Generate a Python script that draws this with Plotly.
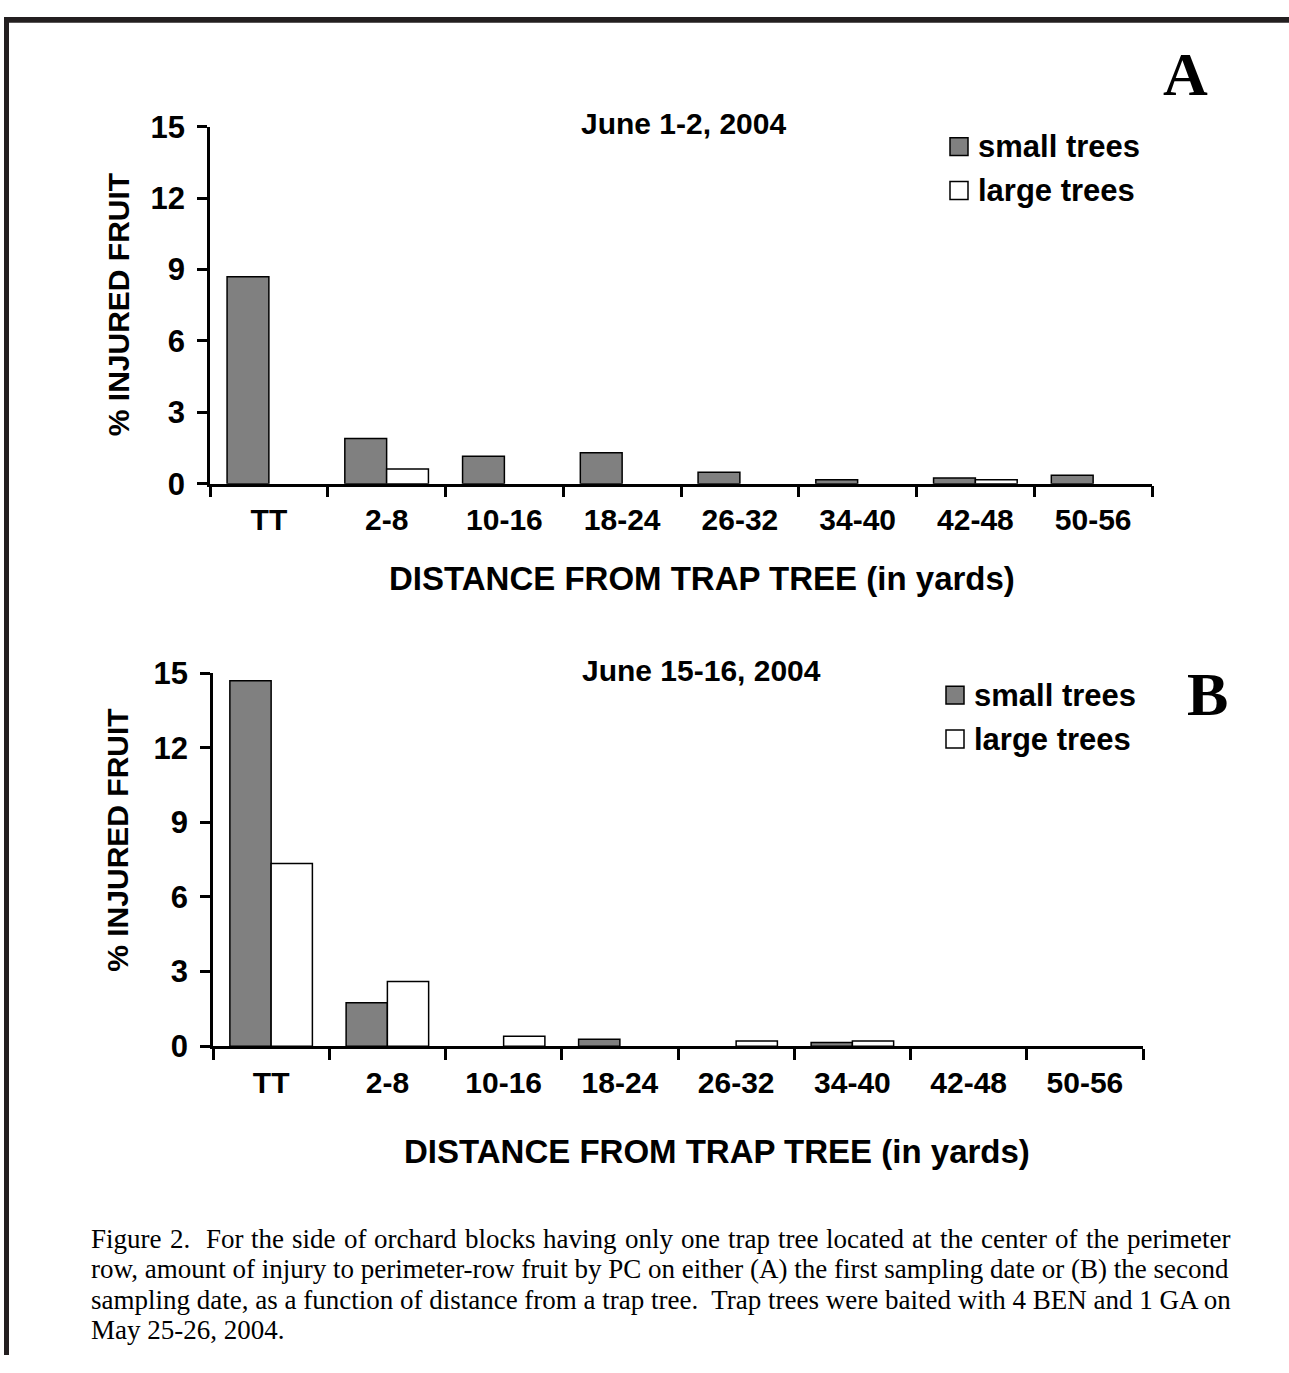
import plotly.graph_objects as go

W, H = 1289, 1373

categories = ["TT", "2-8", "10-16", "18-24", "26-32", "34-40", "42-48", "50-56"]
a_small = [8.7, 1.9, 1.15, 1.3, 0.48, 0.17, 0.24, 0.36]
a_large = [0.0, 0.62, 0.0, 0.0, 0.0, 0.0, 0.17, 0.0]
b_small = [14.7, 1.75, 0.0, 0.28, 0.0, 0.15, 0.0, 0.0]
b_large = [7.35, 2.6, 0.4, 0.0, 0.21, 0.21, 0.0, 0.0]
y_ticks = [0, 3, 6, 9, 12, 15]
series_names = ["small trees", "large trees"]
titles = ["June 1-2, 2004", "June 15-16, 2004"]
panel_letters = ["A", "B"]
y_title = "% INJURED FRUIT"
x_title = "DISTANCE FROM TRAP TREE (in yards)"
caption_lines = [
    "Figure 2.  For the side of orchard blocks having only one trap tree located at the center of the perimeter",
    "row, amount of injury to perimeter-row fruit by PC on either (A) the first sampling date or (B) the second",
    "sampling date, as a function of distance from a trap tree.  Trap trees were baited with 4 BEN and 1 GA on",
    "May 25-26, 2004.",
]

SMALL_COLOR = "#808080"
LARGE_COLOR = "#ffffff"
FONT = "Arial, Liberation Sans, sans-serif"
SERIF = "Times New Roman, Liberation Serif, serif"

# screen y observed = 16 + 0.9772 * layout y  -> invert so marks land where intended
Y_OFF, Y_SCALE = 16.0, 0.9772


def px(x):
    return x / W


def py(y):
    return 1 - ((y - Y_OFF) / Y_SCALE) / H


def nonzero(vals):
    return [v if v > 0 else None for v in vals]


fig = go.Figure()

for (xa, ya, small, large) in [("x", "y", a_small, a_large), ("x2", "y2", b_small, b_large)]:
    fig.add_trace(go.Bar(x=categories, y=nonzero(small), name=series_names[0], xaxis=xa, yaxis=ya,
                         marker=dict(color=SMALL_COLOR, line=dict(color="black", width=1.5)),
                         showlegend=False))
    fig.add_trace(go.Bar(x=categories, y=nonzero(large), name=series_names[1], xaxis=xa, yaxis=ya,
                         marker=dict(color=LARGE_COLOR, line=dict(color="black", width=1.5)),
                         showlegend=False))

xcommon = dict(type="category", range=[-0.5, 7.5], showline=True, linecolor="black", linewidth=2.5,
               ticks="outside", tickson="boundaries", ticklen=11, tickwidth=2.5, tickcolor="black",
               showgrid=False, zeroline=False, ticklabelstandoff=8,
               tickfont=dict(family=FONT, size=30, color="black", weight="bold"))
ycommon = dict(range=[0, 15], tickvals=y_ticks, showline=True, linecolor="black", linewidth=2.5,
               ticks="outside", ticklen=10, tickwidth=2.5, tickcolor="black",
               showgrid=False, zeroline=False, ticklabelstandoff=6,
               tickfont=dict(family=FONT, size=31, color="black", weight="bold"))

fig.update_layout(
    width=W, height=H,
    margin=dict(l=0, r=0, t=0, b=0),
    paper_bgcolor="white", plot_bgcolor="rgba(0,0,0,0)",
    barmode="group", bargap=0.29, bargroupgap=0,
    xaxis=dict(domain=[px(210), px(1152)], anchor="y", **xcommon),
    yaxis=dict(domain=[py(484), py(126)], anchor="x", **ycommon),
    xaxis2=dict(domain=[px(213), px(1143)], anchor="y2", **xcommon),
    yaxis2=dict(domain=[py(1048), py(674)], anchor="x2", **ycommon),
)

annotations = []
shapes = []

panels = [
    dict(title_xy=(684, 123), ytitle_xy=(118, 305), xtitle_xy=(702, 579), letter_xy=(1185, 73),
         leg_x=950, leg_y=(146, 190)),
    dict(title_xy=(701, 671), ytitle_xy=(118, 842), xtitle_xy=(717, 1154), letter_xy=(1207, 695),
         leg_x=946, leg_y=(696, 740)),
]
for i, p in enumerate(panels):
    annotations.append(dict(x=px(p["title_xy"][0]), y=py(p["title_xy"][1]), xref="paper", yref="paper",
                            text=titles[i], showarrow=False, xanchor="center", yanchor="middle",
                            font=dict(family=FONT, size=30, color="black", weight="bold")))
    annotations.append(dict(x=px(p["ytitle_xy"][0]), y=py(p["ytitle_xy"][1]), xref="paper", yref="paper",
                            text=y_title, showarrow=False, textangle=-90, xanchor="center", yanchor="middle",
                            font=dict(family=FONT, size=30, color="black", weight="bold")))
    annotations.append(dict(x=px(p["xtitle_xy"][0]), y=py(p["xtitle_xy"][1]), xref="paper", yref="paper",
                            text=x_title, showarrow=False, xanchor="center", yanchor="middle",
                            font=dict(family=FONT, size=33, color="black", weight="bold")))
    annotations.append(dict(x=px(p["letter_xy"][0]), y=py(p["letter_xy"][1]), xref="paper", yref="paper",
                            text=panel_letters[i], showarrow=False, xanchor="center", yanchor="middle",
                            font=dict(family=SERIF, size=62, color="black", weight="bold")))
    for j, (name, col) in enumerate(zip(series_names, [SMALL_COLOR, LARGE_COLOR])):
        cy = p["leg_y"][j]
        lx = p["leg_x"]
        shapes.append(dict(type="rect", xref="paper", yref="paper",
                           x0=px(lx), x1=px(lx + 18), y0=py(cy + 9), y1=py(cy - 9),
                           fillcolor=col, line=dict(color="black", width=1.5)))
        annotations.append(dict(x=px(lx + 26), y=py(cy), xref="paper", yref="paper",
                                text=name, showarrow=False, xanchor="left", yanchor="middle",
                                font=dict(family=FONT, size=31, color="black", weight="bold")))

# Caption (first line justified word by word, using Times advance widths)
TIMES_W = {" ": 250, ".": 250, ",": 250, "-": 333, "(": 333, ")": 333, "F": 556, "A": 722, "B": 667,
           "C": 667, "P": 556, "a": 444, "b": 500, "c": 444, "d": 500, "e": 444, "f": 333, "g": 500,
           "h": 500, "i": 278, "j": 278, "k": 500, "l": 278, "m": 778, "n": 500, "o": 500, "p": 500,
           "r": 333, "s": 389, "t": 278, "u": 500, "v": 500, "w": 722, "y": 500}
CAP_SIZE = 27
CAP_LEFT, CAP_RIGHT = 89, 1228


def word_width(w):
    return sum(TIMES_W.get(ch, 500) for ch in w) / 1000 * CAP_SIZE


def cap_font():
    return dict(family=SERIF, size=CAP_SIZE, color="black")


for k, line in enumerate(caption_lines):
    ycap = py(1241 + k * 30.7)
    if k == 0:
        tokens = line.split(" ")
        words = [t for t in tokens if t]
        gap_units = []
        units = 0
        for t in tokens[1:]:
            units += 1
            if t:
                gap_units.append(units)
                units = 0
        total_w = sum(word_width(w) for w in words)
        unit = (CAP_RIGHT - CAP_LEFT - total_w) / sum(gap_units)
        xcur = CAP_LEFT
        for wi, w in enumerate(words):
            annotations.append(dict(x=px(xcur), y=ycap, xref="paper", yref="paper", text=w,
                                    showarrow=False, xanchor="left", yanchor="middle", font=cap_font()))
            xcur += word_width(w)
            if wi < len(gap_units):
                xcur += gap_units[wi] * unit
    else:
        annotations.append(dict(x=px(CAP_LEFT), y=ycap, xref="paper", yref="paper",
                                text=line, showarrow=False, xanchor="left", yanchor="middle",
                                font=cap_font()))

# Page border (top and left)
shapes.append(dict(type="rect", xref="paper", yref="paper", x0=px(4), x1=1, y0=1 - 6 / H, y1=1,
                   fillcolor="#231f20", line=dict(width=0)))
shapes.append(dict(type="rect", xref="paper", yref="paper", x0=px(4), x1=px(9), y0=0, y1=1,
                   fillcolor="#231f20", line=dict(width=0)))

fig.update_layout(annotations=annotations, shapes=shapes)

post = (
    "document.documentElement.style.margin='0';document.documentElement.style.padding='0';"
    "document.documentElement.style.overflow='hidden';"
    "document.body.style.margin='0';document.body.style.padding='0';document.body.style.overflow='hidden';"
    "var d=document.getElementById('{plot_id}');d.style.position='fixed';d.style.top='0px';d.style.left='0px';"
)
fig.write_html("out.html", config={"displayModeBar": False}, post_script=post)
